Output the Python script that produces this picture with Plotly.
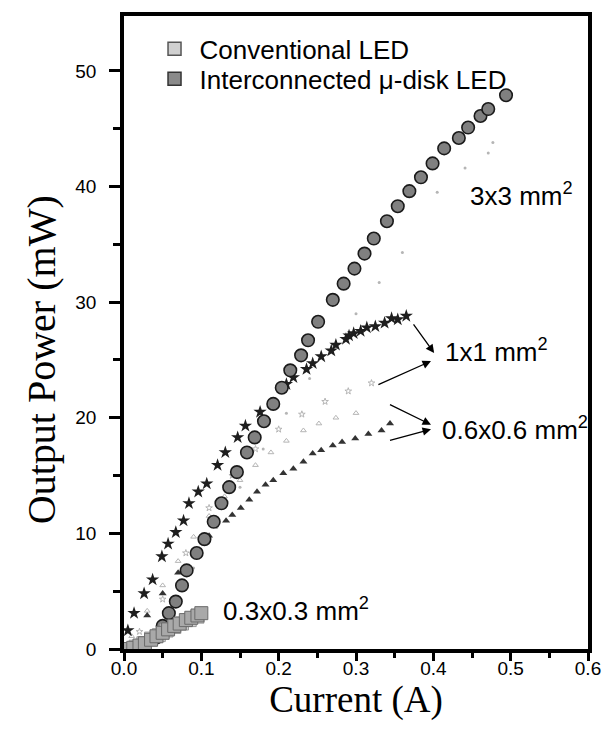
import plotly.graph_objects as go

# ---------------- data ----------------
# 3x3 mm2, interconnected micro-disk LED (large circles)
i3_x = [0.042, 0.050, 0.058, 0.067, 0.075, 0.081, 0.094, 0.104, 0.116, 0.126, 0.136, 0.146,
        0.159, 0.169, 0.181, 0.193, 0.204, 0.215, 0.229, 0.238, 0.251, 0.270, 0.284, 0.298,
        0.311, 0.323, 0.340, 0.354, 0.369, 0.384, 0.399, 0.414, 0.433, 0.445, 0.461, 0.471, 0.494]
i3_y = [1.0, 2.0, 3.1, 4.1, 5.5, 6.8, 8.3, 9.5, 11.0, 12.6, 14.0, 15.3,
        17.0, 18.3, 19.7, 21.2, 22.6, 24.1, 25.4, 26.7, 28.3, 30.2, 31.6, 32.9,
        34.2, 35.5, 37.0, 38.3, 39.6, 40.8, 42.0, 43.3, 44.2, 45.1, 46.1, 46.7, 47.9]
# 3x3 mm2, conventional LED (faint)
c3_x = [0.06, 0.09, 0.12, 0.15, 0.18, 0.21, 0.24, 0.27, 0.30, 0.33, 0.36, 0.405, 0.441, 0.471, 0.477]
c3_y = [3.5, 7.0, 10.5, 14.0, 17.3, 20.4, 23.4, 26.3, 29.0, 31.7, 34.3, 39.5, 41.6, 42.9, 43.8]

# 1x1 mm2, interconnected (stars)
i1_x = [0.0, 0.005, 0.013, 0.026, 0.037, 0.049, 0.057, 0.067, 0.077, 0.084, 0.096, 0.107,
        0.121, 0.131, 0.147, 0.157, 0.176, 0.210, 0.219, 0.236, 0.244, 0.255, 0.268, 0.274,
        0.287, 0.291, 0.297, 0.306, 0.314, 0.325, 0.337, 0.346, 0.354, 0.365]
i1_y = [0.0, 1.6, 3.1, 4.8, 6.0, 8.0, 9.1, 10.1, 11.1, 12.6, 13.6, 14.3,
        15.9, 17.0, 18.3, 19.3, 20.5, 22.9, 23.5, 24.2, 24.7, 25.3, 25.8, 26.3,
        26.8, 27.1, 27.3, 27.5, 27.8, 27.9, 28.2, 28.6, 28.5, 28.8]
# 1x1 mm2, conventional (faint)
c1_x = [0.02, 0.05, 0.08, 0.11, 0.14, 0.17, 0.20, 0.23, 0.26, 0.29, 0.32]
c1_y = [1.5, 4.3, 8.3, 12.2, 15.0, 17.3, 19.0, 20.3, 21.4, 22.3, 23.0]

# 0.6x0.6 mm2, interconnected (triangles)
i6_x = [0.03, 0.05, 0.07, 0.09, 0.11, 0.132, 0.140, 0.151, 0.162, 0.172, 0.183, 0.193,
        0.206, 0.219, 0.232, 0.244, 0.255, 0.270, 0.282, 0.299, 0.316, 0.333, 0.344]
i6_y = [2.9, 4.8, 6.6, 8.3, 9.8, 11.1, 11.6, 12.2, 12.9, 13.6, 14.2, 14.6,
        15.2, 15.6, 16.2, 16.9, 17.2, 17.6, 17.9, 18.2, 18.6, 18.9, 19.5]
# 0.6x0.6 mm2, conventional (faint)
c6_x = [0.01, 0.03, 0.05, 0.07, 0.09, 0.11, 0.13, 0.15, 0.17, 0.19, 0.21, 0.232, 0.252, 0.274, 0.30]
c6_y = [1.1, 3.3, 5.5, 7.6, 9.7, 11.5, 13.2, 14.6, 15.9, 17.0, 18.0, 18.9, 19.5, 20.0, 20.4]

# 0.3x0.3 mm2 (squares)
i03_x = [0.005, 0.012, 0.02, 0.027, 0.035, 0.042, 0.05, 0.057, 0.065, 0.072, 0.08, 0.087, 0.095, 0.100]
i03_y = [0.0, 0.1, 0.3, 0.5, 0.8, 1.1, 1.4, 1.7, 2.0, 2.2, 2.5, 2.7, 2.9, 3.1]
c03_x = [0.005, 0.015, 0.025, 0.035, 0.045, 0.055, 0.065, 0.075, 0.085, 0.095]
c03_y = [0.0, 0.2, 0.5, 0.9, 1.2, 1.6, 1.9, 2.2, 2.5, 2.8]

legend_names = ["Conventional LED", "Interconnected \u03bc-disk LED"]

# size labels: (text, x, y)
size_labels = [("3x3 mm<sup>2</sup>", 0.445, 39.3),
               ("1x1 mm<sup>2</sup>", 0.412, 25.8),
               ("0.6x0.6 mm<sup>2</sup>", 0.408, 19.1),
               ("0.3x0.3 mm<sup>2</sup>", 0.1256, 3.4)]
# arrows: (tail x, tail y, head x, head y)
arrows = [(0.373, 28.2, 0.401, 25.6),
          (0.327, 22.8, 0.397, 24.9),
          (0.342, 21.2, 0.397, 19.4),
          (0.342, 18.0, 0.397, 19.0)]

x_ticks = [0.0, 0.1, 0.2, 0.3, 0.4, 0.5, 0.6]
y_ticks = [0, 10, 20, 30, 40, 50]

x_title = "Current (A)"
y_title = "Output Power (mW)"

# ---------------- figure ----------------
fig = go.Figure()

faint = "#b5b5b5"
fig.add_trace(go.Scatter(x=c3_x, y=c3_y, mode="markers", showlegend=False,
                         marker=dict(symbol="circle", size=3, color=faint)))
fig.add_trace(go.Scatter(x=c1_x, y=c1_y, mode="markers", showlegend=False,
                         marker=dict(symbol="star-open", size=5, color=faint, line=dict(width=1, color=faint))))
fig.add_trace(go.Scatter(x=c6_x, y=c6_y, mode="markers", showlegend=False,
                         marker=dict(symbol="triangle-up-open", size=5, color=faint, line=dict(width=1, color=faint))))
fig.add_trace(go.Scatter(x=i6_x, y=i6_y, mode="markers", showlegend=False,
                         marker=dict(symbol="triangle-up", size=7, color="#333333")))
fig.add_trace(go.Scatter(x=i1_x, y=i1_y, mode="markers", showlegend=False,
                         marker=dict(symbol="star", size=10, color="#1e1e1e")))
fig.add_trace(go.Scatter(x=i3_x, y=i3_y, mode="markers", showlegend=False,
                         marker=dict(symbol="circle", size=12.5, color="#808080",
                                     line=dict(width=1.6, color="#1a1a1a"))))
fig.add_trace(go.Scatter(x=c03_x, y=c03_y, mode="markers", showlegend=False,
                         marker=dict(symbol="square", size=13, color="#d2d2d2",
                                     line=dict(width=1, color="#9a9a9a"))))
fig.add_trace(go.Scatter(x=i03_x, y=i03_y, mode="markers", showlegend=False,
                         marker=dict(symbol="square", size=13, color="#a9a9a9",
                                     line=dict(width=1, color="#6a6a6a"))))

# legend-only entries (two single-entry legends so the line spacing matches)
fig.add_trace(go.Scatter(x=[None], y=[None], mode="markers", name=legend_names[0], legend="legend",
                         marker=dict(symbol="square", size=13, color="#d0d0d0",
                                     line=dict(width=1.5, color="#555555"))))
fig.add_trace(go.Scatter(x=[None], y=[None], mode="markers", name=legend_names[1], legend="legend2",
                         marker=dict(symbol="square", size=13, color="#8a8a8a",
                                     line=dict(width=1.5, color="#333333"))))

for text, x, y in size_labels:
    fig.add_annotation(x=x, y=y, xref="x", yref="y", text=text, showarrow=False,
                       xanchor="left", yanchor="middle",
                       font=dict(family="Liberation Sans, Arial", size=26, color="black"))

for tx, ty, hx, hy in arrows:
    fig.add_annotation(x=hx, y=hy, ax=tx, ay=ty, xref="x", yref="y", axref="x", ayref="y",
                       text="", showarrow=True, arrowhead=2, arrowsize=1.3, arrowwidth=1.3,
                       arrowcolor="black", standoff=0, startstandoff=0)

# y-axis title (placed as in the reference, slightly below the axis centre)
fig.add_annotation(x=-0.178, y=0.457, xref="paper", yref="paper", text=y_title,
                   showarrow=False, textangle=-90, xanchor="center", yanchor="middle",
                   font=dict(family="Liberation Serif, Times New Roman", size=40, color="black"))

axis_common = dict(showline=True, linewidth=3.5, linecolor="black", mirror=True,
                   ticks="outside", tickwidth=2.5, tickcolor="black",
                   showgrid=False, zeroline=False,
                   tickfont=dict(family="Liberation Sans, Arial", size=19, color="black"))

fig.update_xaxes(range=[0, 0.6], tickvals=x_ticks, ticktext=[f"{v:.1f}" for v in x_ticks],
                 ticklen=8, ticklabelstandoff=-9,
                 minor=dict(ticks="outside", ticklen=5, tickwidth=2.5, tickcolor="black", dtick=0.05),
                 title=dict(text=x_title, standoff=3,
                            font=dict(family="Liberation Serif, Times New Roman", size=37, color="black")),
                 **axis_common)
fig.update_yaxes(range=[0, 54.75], tickvals=y_ticks, ticktext=[str(v) for v in y_ticks],
                 ticklen=11, ticklabelstandoff=9,
                 minor=dict(ticks="outside", ticklen=7, tickwidth=2.5, tickcolor="black", dtick=5),
                 **axis_common)

legend_common = dict(xanchor="left", yanchor="middle", bgcolor="rgba(0,0,0,0)", borderwidth=0,
                     itemwidth=40, font=dict(family="Liberation Sans, Arial", size=26, color="black"))

fig.update_layout(
    width=613, height=740,
    margin=dict(l=124, r=16, t=15, b=91),
    paper_bgcolor="white", plot_bgcolor="white",
    showlegend=True,
    legend=dict(x=0.055, y=0.948, **legend_common),
    legend2=dict(x=0.055, y=0.9006, **legend_common),
)

fig.write_html("out.html")
